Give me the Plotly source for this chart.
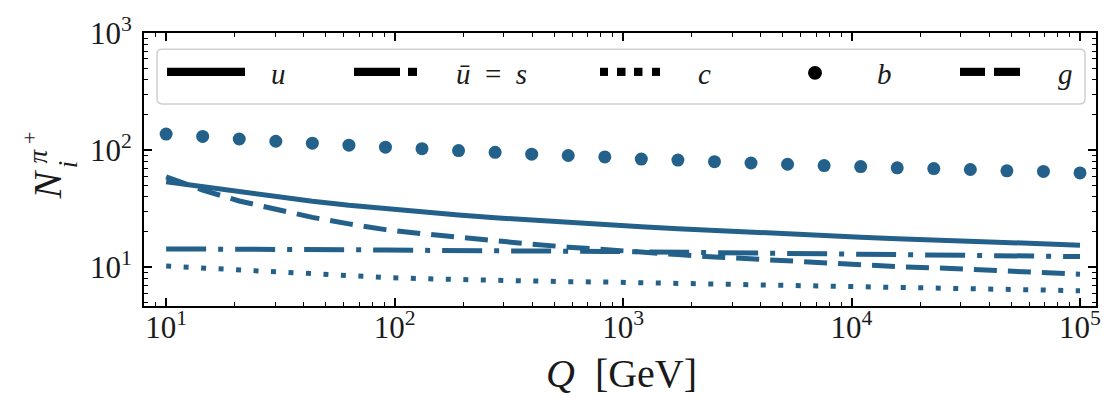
import numpy as np
import plotly.graph_objects as go

# Hard scale Q (GeV), log-spaced grid
Q = [10.0, 14.45, 20.89, 30.2, 43.65, 63.1, 91.2, 131.8, 190.5, 275.4,
     398.1, 575.4, 831.8, 1202.0, 1737.8, 2511.9, 3630.8, 5248.1, 7585.8, 10965.0,
     15848.9, 22908.7, 33113.1, 47863.0, 69183.1, 100000.0]

# Pion multiplicities per parton species
N_u = [53.6, 48.5, 43.5, 40.0, 36.5, 33.7, 31.4, 29.5, 27.9, 26.4,
       25.1, 24.0, 23.0, 22.1, 21.3, 20.5, 19.8, 19.1, 18.5, 18.0,
       17.5, 17.0, 16.5, 16.1, 15.7, 15.4]
N_ubar_s = [14.3, 14.3, 14.2, 14.2, 14.1, 14.1, 14.0, 13.9, 13.9, 13.8,
            13.7, 13.7, 13.6, 13.5, 13.4, 13.3, 13.2, 13.0, 12.9, 12.8,
            12.7, 12.6, 12.5, 12.4, 12.3, 12.3]
N_c = [10.2, 9.8, 9.4, 9.0, 8.65, 8.35, 8.15, 7.95, 7.8, 7.7,
       7.6, 7.5, 7.45, 7.35, 7.25, 7.15, 7.05, 6.95, 6.8, 6.7,
       6.62, 6.55, 6.48, 6.4, 6.33, 6.28]
N_b = [136.9, 130.6, 124.3, 118.9, 114.4, 110.1, 105.9, 102.7, 98.9, 95.7,
       92.1, 89.8, 87.4, 83.7, 82.1, 79.5, 77.5, 75.6, 73.6, 72.2,
       70.5, 69.5, 68.2, 66.5, 65.6, 63.7]
N_g = [59.0, 45.5, 36.7, 30.9, 26.6, 23.4, 20.9, 19.3, 17.9, 16.7,
       15.7, 14.8, 14.0, 13.4, 12.8, 12.2, 11.7, 11.3, 10.9, 10.45,
       10.1, 9.85, 9.5, 9.25, 8.97, 8.7]

x_tickvals = [1e1, 1e2, 1e3, 1e4, 1e5]
x_ticktext = ["10<sup>1</sup>", "10<sup>2</sup>", "10<sup>3</sup>", "10<sup>4</sup>", "10<sup>5</sup>"]
y_tickvals = [1e1, 1e2, 1e3]
y_ticktext = ["10<sup>1</sup>", "10<sup>2</sup>", "10<sup>3</sup>"]
x_minor = [m * 10 ** k for k in range(0, 5) for m in range(2, 10)]
y_minor = [m * 10 ** k for k in range(0, 3) for m in range(2, 10)]

legend_labels = ["<i>u</i>", "<i>u\u0304</i>&nbsp;&nbsp;=&nbsp;&nbsp;<i>s</i>", "<i>c</i>", "<i>b</i>", "<i>g</i>"]

COLOR = "#23618a"
INK = "#1a1a1a"
SERIF = "Liberation Serif"

W, H = 1117, 398
PL, PR, PT, PB = 144, 1096, 25, 306


def px(x):
    return (x - PL) / (PR - PL)


def py(y):
    return (PB - y) / (PB - PT)


fig = go.Figure()
fig.add_trace(go.Scatter(x=Q, y=N_u, mode="lines", line=dict(color=COLOR, width=5), showlegend=False))
fig.add_trace(go.Scatter(x=Q, y=N_ubar_s, mode="lines",
                         line=dict(color=COLOR, width=5, dash="40px,12px,5px,12px"), showlegend=False))
fig.add_trace(go.Scatter(x=Q, y=N_c, mode="lines",
                         line=dict(color=COLOR, width=5, dash="5px,12.5px"), showlegend=False))
fig.add_trace(go.Scatter(x=Q, y=N_g, mode="lines",
                         line=dict(color=COLOR, width=5, dash="23px,11px"), showlegend=False))
fig.add_trace(go.Scatter(x=Q, y=N_b, mode="markers",
                         marker=dict(color=COLOR, size=13, line=dict(width=0)), showlegend=False))

axis_common = dict(
    type="log", showgrid=False, zeroline=False, showline=True, linecolor="black", linewidth=2,
    mirror="allticks", ticks="inside", ticklen=8, tickwidth=1.5, tickcolor="black",
    tickfont=dict(family=SERIF, size=31, color=INK), tickmode="array",
)
fig.update_xaxes(range=[np.log10(8.0), 5.07], tickvals=x_tickvals, ticktext=x_ticktext,
                 minor=dict(tickmode="array", tickvals=x_minor, ticks="inside", ticklen=4,
                            tickwidth=1.2, tickcolor="black", showgrid=False),
                 ticklabelstandoff=-7, **axis_common)
fig.update_yaxes(range=[0.6675, 3.0], tickvals=y_tickvals, ticktext=y_ticktext,
                 minor=dict(tickmode="array", tickvals=y_minor, ticks="inside", ticklen=4,
                            tickwidth=1.2, tickcolor="black", showgrid=False),
                 ticklabelstandoff=4, **axis_common)

shapes = []
annotations = []

# legend frame with rounded corners
x0, x1, y0, y1, r = 157, 1085, 41.7, 98, 5
rx, ry = r / (PR - PL), r / (PB - PT)
X0, X1, Y0, Y1 = px(x0), px(x1), py(y1), py(y0)
path = (f"M{X0 + rx},{Y0} L{X1 - rx},{Y0} Q{X1},{Y0} {X1},{Y0 + ry} "
        f"L{X1},{Y1 - ry} Q{X1},{Y1} {X1 - rx},{Y1} L{X0 + rx},{Y1} "
        f"Q{X0},{Y1} {X0},{Y1 - ry} L{X0},{Y0 + ry} Q{X0},{Y0} {X0 + rx},{Y0} Z")
shapes.append(dict(type="path", path=path, xref="paper", yref="paper",
                   line=dict(color="#cfcfcf", width=1.5), fillcolor="rgba(255,255,255,0.8)", layer="above"))

# legend keys (black)
def key_rect(xa, xb, yc=65, h=8.4):
    return dict(type="rect", xref="paper", yref="paper", x0=px(xa), x1=px(xb),
                y0=py(yc + h / 2), y1=py(yc - h / 2), fillcolor="black", line=dict(width=0), layer="above")

for seg in [(167, 245), (354, 400), (408, 417), (600, 608), (617, 625.5), (634, 642.5), (652, 660),
            (960, 985), (994, 1020)]:
    shapes.append(key_rect(*seg))
shapes.append(dict(type="circle", xref="paper", yref="paper", x0=px(808), x1=px(822),
                   y0=py(73), y1=py(59), fillcolor="black", line=dict(width=0), layer="above"))

for lab, xc in zip(legend_labels, [278, 491, 704, 884, 1065]):
    annotations.append(dict(text=lab, x=px(xc), y=py(67.5), xref="paper", yref="paper",
                            xanchor="center", yanchor="middle", showarrow=False,
                            font=dict(family=SERIF, size=29, color=INK)))

# axis titles
annotations.append(dict(text="<i>Q</i>&nbsp;&nbsp;[GeV]", x=px(621), y=py(375), xref="paper", yref="paper",
                        xanchor="center", yanchor="middle", showarrow=False,
                        font=dict(family=SERIF, size=40, color=INK)))
for txt, xc, yc, size in [("<i>N</i>", 48, 181, 40), ("<i>π</i>", 38, 152, 27),
                          ("+", 30, 133, 22), ("<i>i</i>", 68, 160, 27)]:
    annotations.append(dict(text=txt, x=px(xc), y=py(yc), xref="paper", yref="paper",
                            xanchor="center", yanchor="middle", showarrow=False, textangle=-90,
                            font=dict(family=SERIF, size=size, color=INK)))

fig.update_layout(
    width=W, height=H, margin=dict(l=PL, r=W - PR, t=PT, b=H - PB),
    paper_bgcolor="white", plot_bgcolor="white", showlegend=False,
    shapes=shapes, annotations=annotations,
)

fig.write_html("out.html")
